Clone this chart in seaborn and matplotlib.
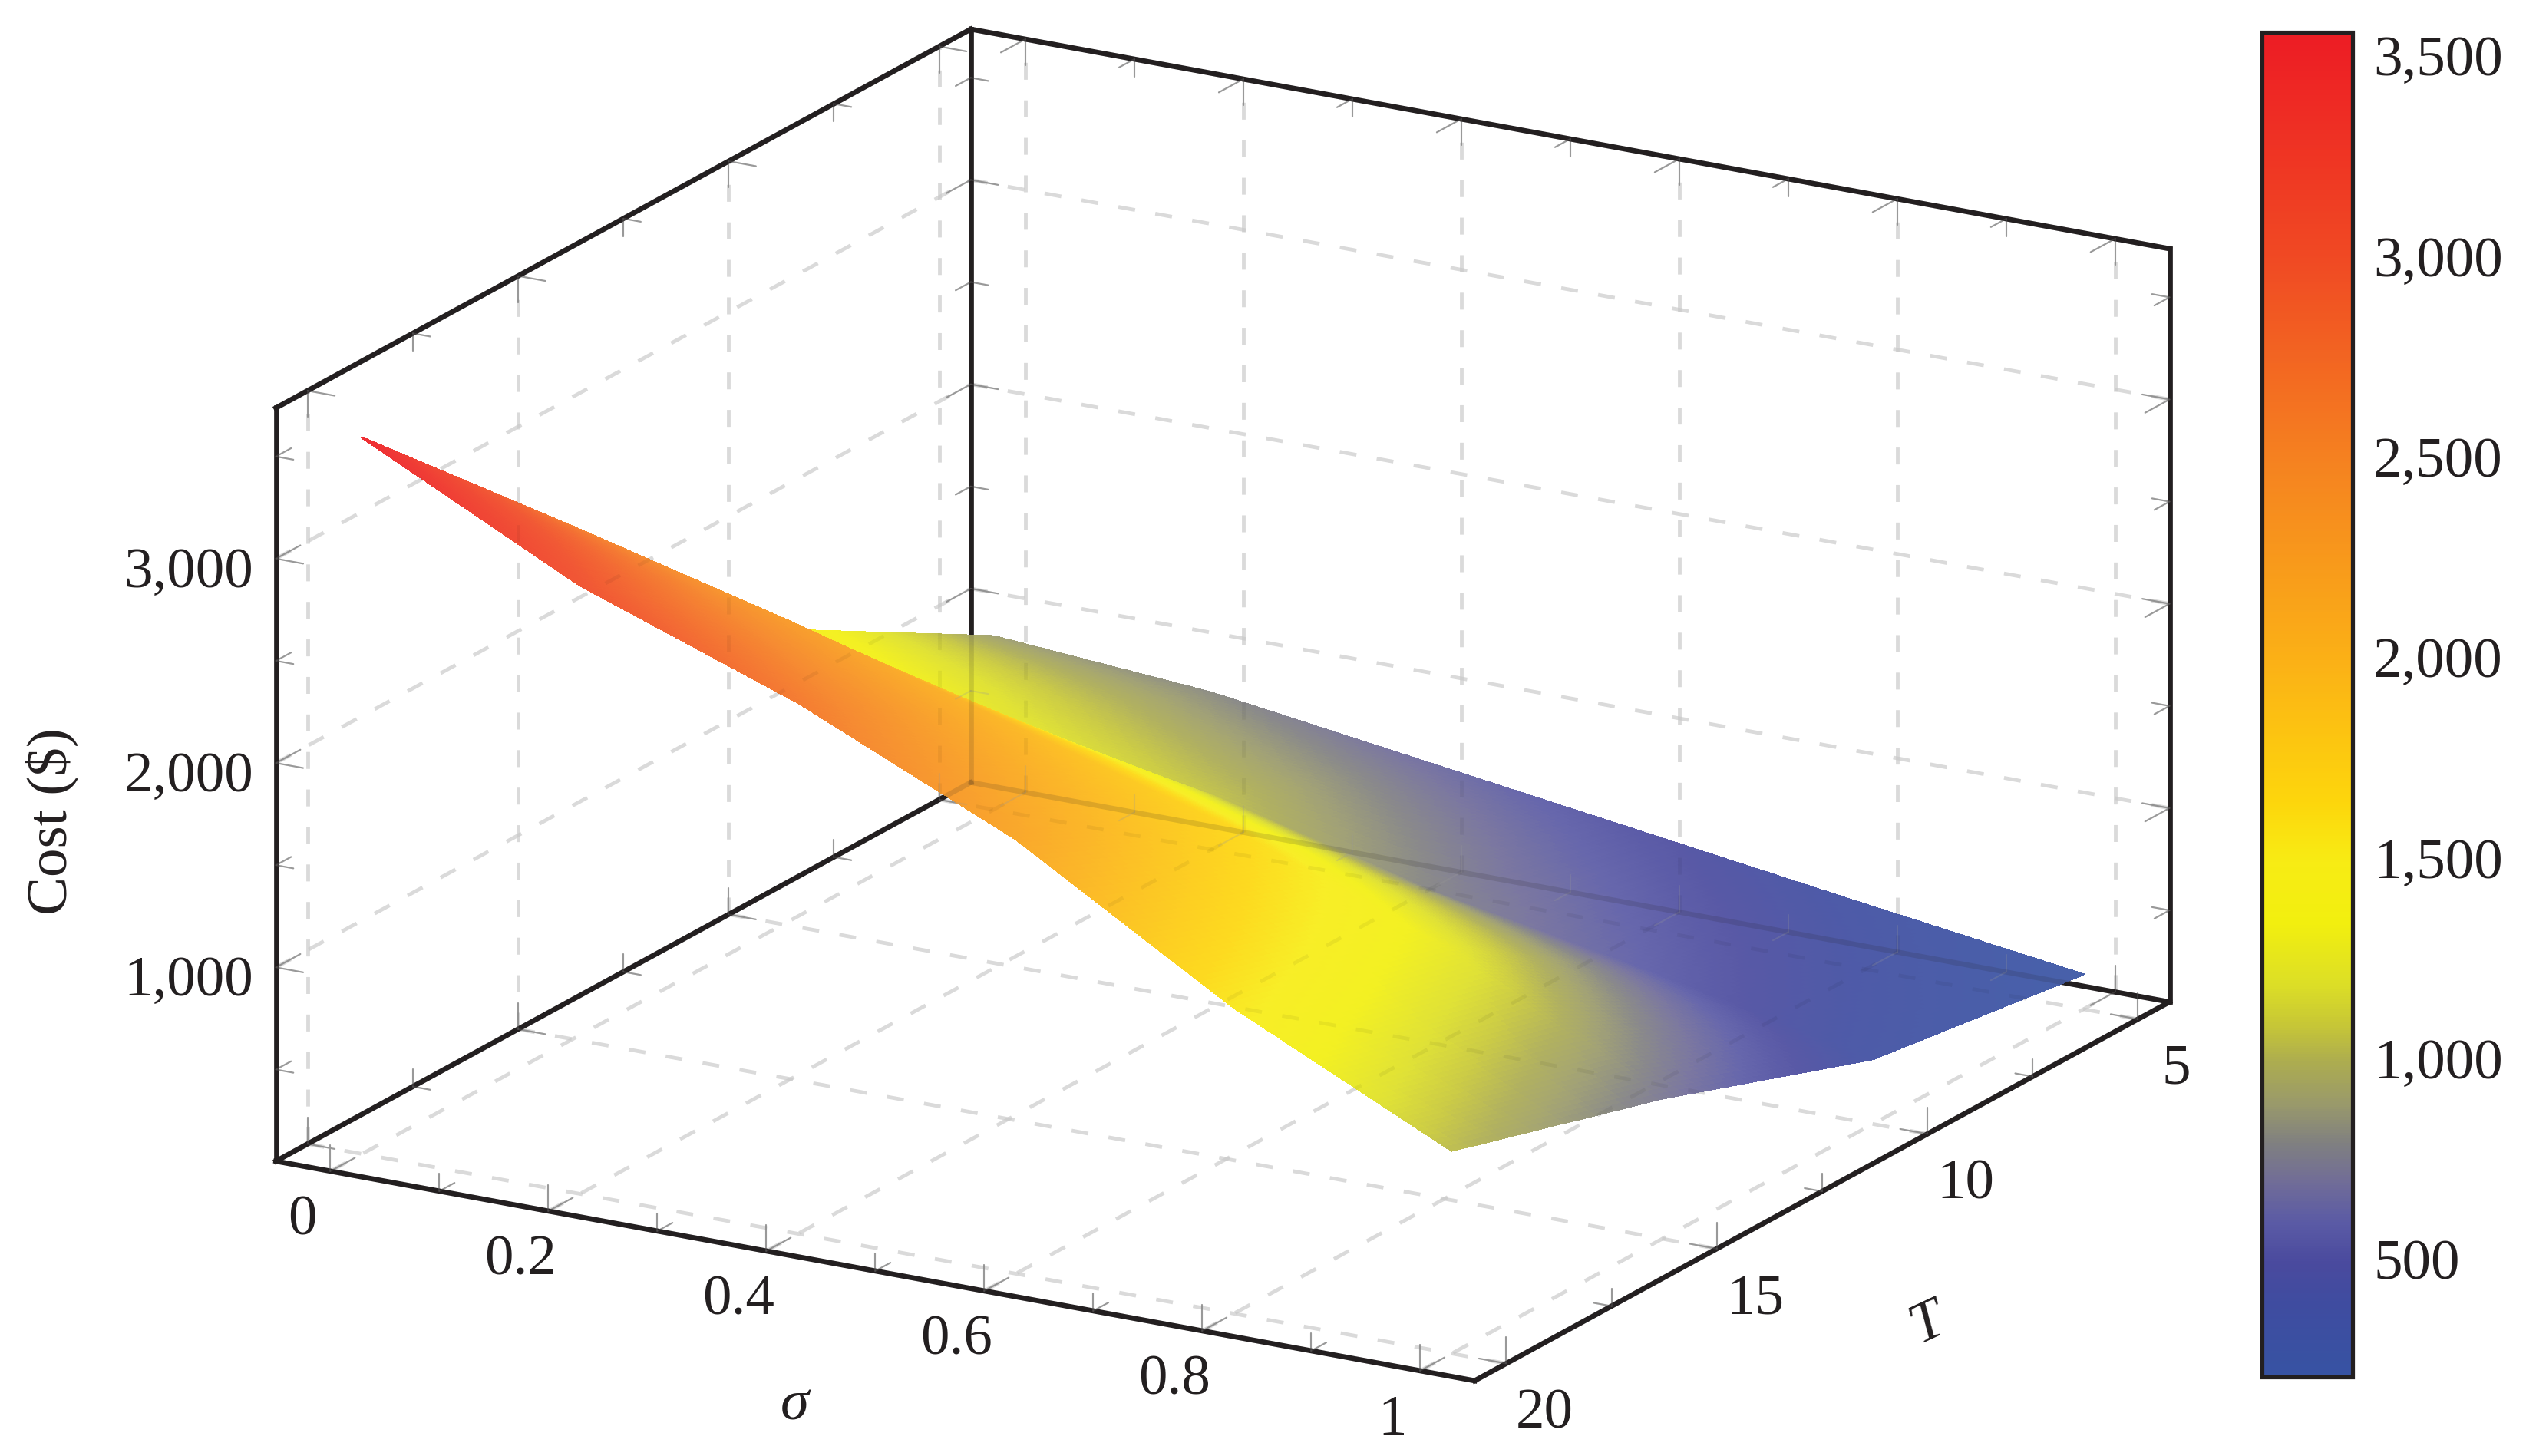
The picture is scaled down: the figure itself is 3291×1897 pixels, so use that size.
import numpy as np
import matplotlib
matplotlib.use("Agg")
import matplotlib.pyplot as plt
import seaborn as sns
from matplotlib.cm import ScalarMappable
from matplotlib.colors import LinearSegmentedColormap, Normalize
from mpl_toolkits.mplot3d import proj3d

# surface values
sigma_vals = [0, 0.2, 0.4, 0.6, 0.8, 1]
T_vals = [5, 10, 15, 20]
cost_T5 = [900, 819, 669, 519, 368, 222]
cost_T10 = [1493, 1250, 1060, 790, 590, 369]
cost_T15 = [2560, 2289, 1985, 1680, 1280, 738]
cost_T20 = [3557, 3029, 2651, 2178, 1549, 1044]

# axis ranges and ticks
sigma_lim = (-0.05, 1.05)
T_lim = (20.75, 4.25)
cost_lim = (51.5, 3737.5)
sigma_ticks = [0, 0.2, 0.4, 0.6, 0.8, 1]
sigma_labels = ["0", "0.2", "0.4", "0.6", "0.8", "1"]
sigma_minor = [0.1, 0.3, 0.5, 0.7, 0.9]
T_ticks = [5, 10, 15, 20]
T_minor = [7.5, 12.5, 17.5]
cost_ticks = [1000, 2000, 3000]
cost_labels = ["1,000", "2,000", "3,000"]
cost_minor = [500, 1500, 2500, 3500]

# colormap stops
cbar_min, cbar_max = 219, 3570
cbar_ticks = [500, 1000, 1500, 2000, 2500, 3000, 3500]
cbar_labels = ["500", "1,000", "1,500", "2,000", "2,500", "3,000", "3,500"]
stop_values = [219, 400, 500, 600, 700, 800, 900, 1000, 1100, 1200, 1350, 1500, 1650, 2000, 2500, 3000, 3570]
stop_colors = ["#3753A3", "#3F4CA0", "#4A4A9E", "#5A5AA5", "#706C98", "#808080", "#9A9A6A", "#ACAC50",
               "#C8C835", "#DDDF25", "#F2EF0F", "#F7EC14", "#FDD60C", "#FBB116", "#F58220", "#F04A23", "#ED1C24"]
surface_opacity = 0.92

W, H = 3291, 1897
INK = "#231F20"
GRID = "#E6E6E6"
TICK = "#999999"

sns.set_theme(style="white")
plt.rcParams["font.family"] = ["Liberation Serif", "DejaVu Serif"]
plt.rcParams["font.size"] = 18

palette = np.array(sns.color_palette(stop_colors))
positions = [(v - cbar_min) / (cbar_max - cbar_min) for v in stop_values]
cost_cmap = LinearSegmentedColormap.from_list("cost", list(zip(positions, palette)), N=512)
# the surface sits on white with a little transparency
washed = surface_opacity * palette + (1 - surface_opacity)
surface_cmap = LinearSegmentedColormap.from_list("cost_surface", list(zip(positions, washed)), N=512)
cost_norm = Normalize(cbar_min, cbar_max)


def refine(values, n=40):
    """Splits every grid step in n parts, only for the smooth shading."""
    values = np.asarray(values, dtype=float)
    idx = np.linspace(0, len(values) - 1, (len(values) - 1) * n + 1)
    return np.interp(idx, np.arange(len(values)), values)


def smooth_surface():
    costs = np.array([cost_T5, cost_T10, cost_T15, cost_T20], dtype=float)
    sig = refine(sigma_vals)
    tt = refine(T_vals)
    by_sigma = np.array([np.interp(sig, sigma_vals, row) for row in costs])
    fine = np.array([np.interp(tt, T_vals, col) for col in by_sigma.T]).T
    xx, yy = np.meshgrid(sig, tt)
    return xx, yy, fine


fig = plt.figure(figsize=(W / 300, H / 300), dpi=300)

# 3d box, bigger than the figure height so that it fills the width
side = 2674
centre_x, centre_y = 1593, 918.5
ax = fig.add_axes([(centre_x - 0.5135 * side) / W, (H - centre_y - 0.5135 * side) / H, side / W, side / H],
                  projection="3d", computed_zorder=False)
ax.set_proj_type("ortho")
ax.view_init(elev=18.42, azim=-59.9)
ax.set_box_aspect((1, 1, 0.573), zoom=1)
ax.set_xlim(*sigma_lim)
ax.set_ylim(*T_lim)
ax.set_zlim(*cost_lim)
ax.set_axis_off()
ax.patch.set_alpha(0)
ax.apply_aspect()

s0, s1 = sigma_lim
t0, t1 = T_lim  # t0 is the front, t1 the back
z0, z1 = cost_lim


def seg(a, b, **kw):
    ax.plot([a[0], b[0]], [a[1], b[1]], [a[2], b[2]], **kw)


def draw_frame(grid_kw, tick_kw, box_kw):
    for s in sigma_ticks:
        seg((s, t0, z0), (s, t1, z0), **grid_kw)
        seg((s, t1, z0), (s, t1, z1), **grid_kw)
    for t in T_ticks:
        seg((s0, t, z0), (s1, t, z0), **grid_kw)
        seg((s0, t, z0), (s0, t, z1), **grid_kw)
    for c in cost_ticks:
        seg((s0, t0, c), (s0, t1, c), **grid_kw)
        seg((s0, t1, c), (s1, t1, c), **grid_kw)

    # tick lengths per direction: (major, minor)
    dz = (128, 86)
    dt = (0.58, 0.36)
    ds = (0.025, 0.016)
    for v in sigma_ticks + sigma_minor:
        k = 0 if v in sigma_ticks else 1
        seg((v, t0, z0), (v, t0, z0 + dz[k]), **tick_kw)
        seg((v, t0, z0), (v, t0 - dt[k], z0), **tick_kw)
        seg((v, t1, z0), (v, t1, z0 + dz[k]), **tick_kw)
        seg((v, t1, z0), (v, t1 + dt[k], z0), **tick_kw)
        seg((v, t1, z1), (v, t1, z1 - dz[k]), **tick_kw)
        seg((v, t1, z1), (v, t1 + dt[k], z1), **tick_kw)
    for v in T_ticks + T_minor:
        k = 0 if v in T_ticks else 1
        seg((s0, v, z0), (s0, v, z0 + dz[k]), **tick_kw)
        seg((s0, v, z0), (s0 + ds[k], v, z0), **tick_kw)
        seg((s1, v, z0), (s1, v, z0 + dz[k]), **tick_kw)
        seg((s1, v, z0), (s1 - ds[k], v, z0), **tick_kw)
        seg((s0, v, z1), (s0, v, z1 - dz[k]), **tick_kw)
        seg((s0, v, z1), (s0 + ds[k], v, z1), **tick_kw)
    for v in cost_ticks + cost_minor:
        k = 0 if v in cost_ticks else 1
        seg((s0, t0, v), (s0 + ds[k], t0, v), **tick_kw)
        seg((s0, t0, v), (s0, t0 - dt[k], v), **tick_kw)
        seg((s0, t1, v), (s0 + ds[k], t1, v), **tick_kw)
        seg((s0, t1, v), (s0, t1 + dt[k], v), **tick_kw)
        seg((s1, t1, v), (s1 - ds[k], t1, v), **tick_kw)
        seg((s1, t1, v), (s1, t1 + dt[k], v), **tick_kw)

    # box edges, the three front top ones are left out
    seg((s0, t0, z0), (s1, t0, z0), **box_kw)
    seg((s1, t0, z0), (s1, t1, z0), **box_kw)
    seg((s0, t0, z0), (s0, t1, z0), **box_kw)
    seg((s0, t1, z0), (s1, t1, z0), **box_kw)
    seg((s0, t0, z0), (s0, t0, z1), **box_kw)
    seg((s0, t1, z0), (s0, t1, z1), **box_kw)
    seg((s1, t1, z0), (s1, t1, z1), **box_kw)
    seg((s0, t0, z1), (s0, t1, z1), **box_kw)
    seg((s0, t1, z1), (s1, t1, z1), **box_kw)


dash = (0, (4.6, 5.6))
draw_frame(dict(color=GRID, lw=1.15, ls=dash, zorder=1),
           dict(color=TICK, lw=0.5, zorder=1.5),
           dict(color=INK, lw=1.6, zorder=1.8, solid_capstyle="projecting"))

xx, yy, zz = smooth_surface()
# colour per cell from the mean of its corners, edges in the same colour close the gaps
cell_cost = (zz[:-1, :-1] + zz[1:, :-1] + zz[:-1, 1:] + zz[1:, 1:]) / 4
cell_rgba = surface_cmap(cost_norm(cell_cost))
surf = ax.plot_surface(xx, yy, zz, facecolors=cell_rgba, shade=False, rstride=1, cstride=1,
                       linewidth=0.4, antialiased=False, zorder=2)
surf.set_edgecolor(cell_rgba.reshape(-1, 4))

# the frame again, very faint, so it shows through the surface
draw_frame(dict(color="black", lw=1.15, ls=dash, alpha=0.05, zorder=3),
           dict(color=TICK, lw=0.5, alpha=0.25, zorder=3),
           dict(color=INK, lw=1.6, alpha=0.14, zorder=3, solid_capstyle="projecting"))


def label_3d(x, y, z, text):
    px, py, _ = proj3d.proj_transform(x, y, z, ax.get_proj())
    fx, fy = ax.transData.transform((px, py))
    fig.text(fx / W, fy / H, text, ha="center", va="center", color=INK)


# tick labels
for s, lab in zip(sigma_ticks, sigma_labels):
    label_3d(s, t0 + 0.66, z0 - 170, lab)
for t in T_ticks:
    label_3d(s1 + 0.035, t, z0 - 215, str(t))
for c, lab in zip(cost_ticks, cost_labels):
    label_3d(s0 - 0.08, t0, c - 150, lab)

fig.text(1035 / W, 1 - 1832 / H, "σ", style="italic", ha="center", va="center", color=INK)
fig.text(2512 / W, 1 - 1725 / H, "T", style="italic", rotation=25, ha="center", va="center", color=INK)
fig.text(67 / W, 1 - 1070 / H, "Cost ($)", rotation=90, ha="center", va="center", color=INK)

# colorbar
cax = fig.add_axes([2947 / W, 1 - 1794 / H, 118 / W, 1752 / H])
sm = ScalarMappable(norm=cost_norm, cmap=cost_cmap)
cbar = fig.colorbar(sm, cax=cax, ticks=cbar_ticks)
cbar.outline.set_edgecolor(INK)
cbar.outline.set_linewidth(1.25)
cbar.ax.minorticks_off()
cbar.ax.tick_params(axis="y", which="major", direction="in", left=True, right=True, length=8.2, width=0.5,
                    color=TICK, labelright=False)
for v, lab in zip(cbar_ticks, cbar_labels):
    cax.annotate(lab, xy=(1, v), xycoords=("axes fraction", "data"), xytext=(6.5, -0.4),
                 textcoords="offset points", ha="left", va="center", color=INK, fontsize=18)

fig.savefig("out.png", dpi=300)
